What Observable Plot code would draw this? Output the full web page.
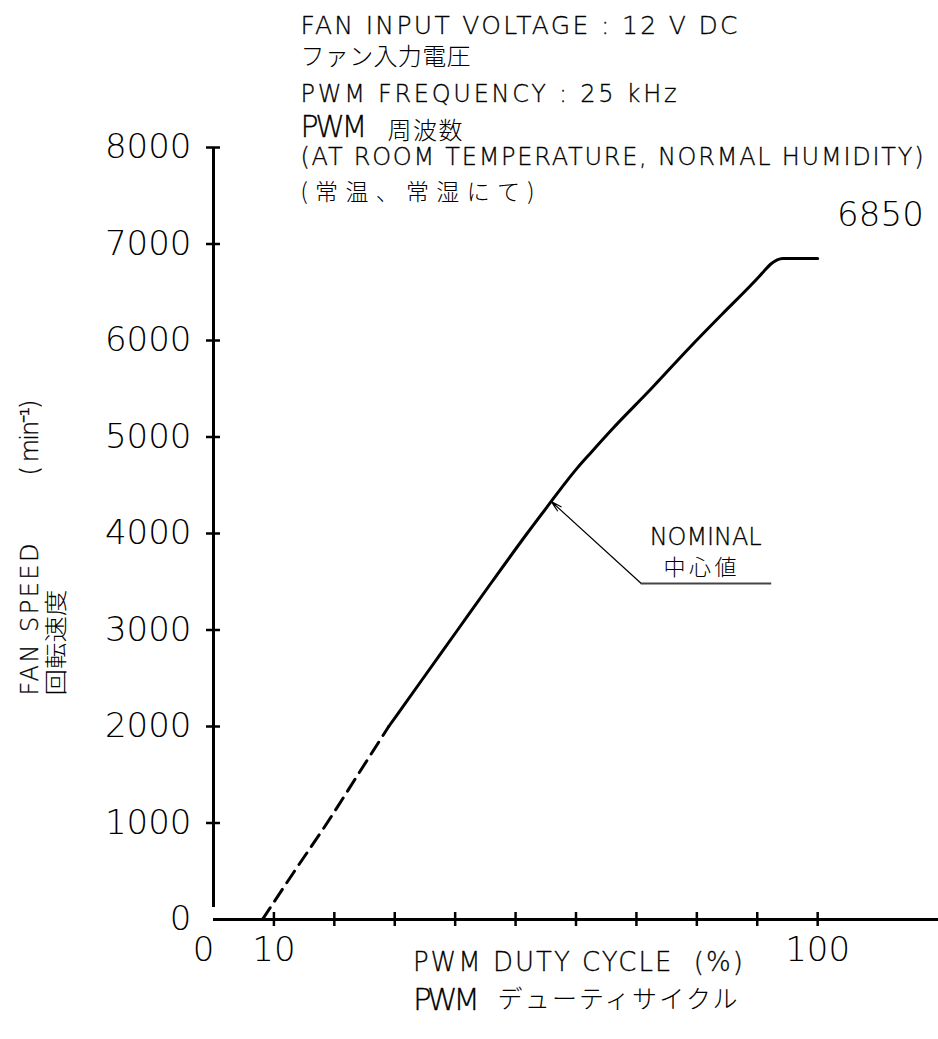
<!DOCTYPE html>
<html>
<head>
<meta charset="utf-8">
<script src="https://cdn.jsdelivr.net/npm/d3@7"></script>
<script src="https://cdn.jsdelivr.net/npm/@observablehq/plot@0.6"></script>
<style>
  html, body { margin: 0; padding: 0; background: #fff; }
  #chart svg { display: block; }
</style>
</head>
<body>
<div id="chart"></div>
<script>
// ---------- data ----------
const dashedDuty  = [8.1, 13.4, 18.8, 23.9, 29.0];
const dashedSpeed = [0, 500, 1000, 1500, 2000];
const solidDuty  = [29.0, 34.7, 40.4, 46.1, 51.9, 55.9, 58.3, 60.3, 62.5, 65.9, 72.6, 78.7, 84.3, 89.3, 91.0, 92.2, 93.3, 94.2, 100];
const solidSpeed = [2000, 2500, 3000, 3500, 4000, 4332, 4530, 4685, 4840, 5075, 5510, 5920, 6280, 6596, 6710, 6790, 6835, 6850, 6850];
const yTicks = [1000, 2000, 3000, 4000, 5000, 6000, 7000, 8000];
const yTickLabels = [0, 1000, 2000, 3000, 4000, 5000, 6000, 7000, 8000];
const xTicks = [10, 20, 30, 40, 50, 60, 70, 80, 90, 100];
const xTickLabels = [10, 100];
const xZeroLabel = [0];
const maxSpeedLabel = "6850";
const nominalTexts = ["NOMINAL", "中心値"];
const headerTexts = [
  "FAN INPUT VOLTAGE : 12 V DC",
  "ファン入力電圧",
  "PWM FREQUENCY : 25 kHz",
  "PWM",
  "周波数",
  "(AT ROOM TEMPERATURE, NORMAL HUMIDITY)",
  "(常温、常湿にて)"
];
const yTitle = ["FAN SPEED", "( min⁻¹)", "回転速度"];
const xTitle = ["PWM DUTY CYCLE  (%)", "PWM", "デューティサイクル"];

// ---------- layout / style (not data) ----------
const LATIN = "DejaVu Sans";
const CJK = "Noto Sans CJK JP";
const headerLayout = [
  {x: 14.4, y: 9264, size: 25, font: LATIN, w: 437},
  {x: 14.4, y: 8933, size: 24, font: CJK,   w: 170},
  {x: 14.4, y: 8549, size: 24, font: LATIN, w: 376},
  {x: 14.4, y: 8207, size: 30, font: LATIN, w: 68},
  {x: 28.8, y: 8166, size: 24, font: CJK,   w: 75},
  {x: 14.4, y: 7896, size: 24, font: LATIN, w: 623},
  {x: 14.4, y: 7534, size: 23, font: CJK,   w: 234}
];
const yTitleLayout = [
  {x: -30.3, y: 2321, size: 24, font: LATIN, w: 152},
  {x: -30.3, y: 4601, size: 24, font: LATIN, w: 76},
  {x: -26.0, y: 2321, size: 23, font: CJK,   w: 106, glyphs: true}
];
const xTitleLayout = [
  {x: 33.0, y: -446, size: 26, font: LATIN, w: 330},
  {x: 33.0, y: -839, size: 31, font: LATIN, w: 67},
  {x: 47.0, y: -839, size: 25, font: CJK,   w: 240}
];
const nominalLayout = [
  {x: 72.2, y: 3959, size: 24, font: LATIN, w: 112},
  {x: 74.5, y: 3648, size: 22, font: CJK,   w: 73}
];
const arrowLayout = {x1: 70.8, y1: 3482, x2: 55.9, y2: 4332, leaderEnd: 92.4};

// ---------- build tables ----------
const dashed = dashedDuty.map((d, i) => ({duty: d, speed: dashedSpeed[i]}));
const solid = solidDuty.map((d, i) => ({duty: d, speed: solidSpeed[i]}));

const latinInk = {fontWeight: 200, fill: "#000", stroke: "#000", strokeWidth: 0.3};
const tickInk = {fontWeight: 200, fill: "#000"};
const cjkInk = {fontWeight: 300, fill: "#000"};

function textMarks(texts, layout, extra = {}) {
  return texts.map((t, i) => {
    const L = layout[i];
    return Plot.text([t], {
      x: [L.x], y: [L.y], text: [t],
      textAnchor: "start", lineAnchor: "middle",
      fontSize: L.size, fontFamily: L.font,
      ...(L.font === LATIN ? latinInk : cjkInk),
      ...extra
    });
  });
}

const plot = Plot.plot({
  width: 938,
  height: 1039,
  marginLeft: 213,
  marginRight: 0,
  marginTop: 147,
  marginBottom: 120,
  x: {domain: [0, 120], axis: null},
  y: {domain: [0, 8000], axis: null},
  style: {fontFamily: LATIN, background: "#fff", overflow: "visible"},
  marks: [
    // axes
    Plot.ruleY([0], {x1: 0, x2: 120, y: d => d, strokeWidth: 3, stroke: "#000"}),
    Plot.ruleX([0], {x: d => d, y1: 0, y2: 8000, insetTop: -12, strokeWidth: 3, stroke: "#000"}),
    Plot.ruleY(yTicks, {y: d => d, x1: 0, x2: 0, insetLeft: -7, insetRight: -7, strokeWidth: 2.5, stroke: "#000"}),
    Plot.ruleX(xTicks, {x: d => d, y1: 0, y2: 0, insetTop: -7, insetBottom: -7, strokeWidth: 2.5, stroke: "#000"}),
    // tick labels
    Plot.text(yTickLabels, {x: 0, y: d => d, text: d => String(d), textAnchor: "end", dx: -22,
      fontSize: 34, fontFamily: LATIN, ...tickInk}),
    Plot.text(xTickLabels, {x: d => d, y: 0, text: d => String(d), dy: 31,
      fontSize: 34, fontFamily: LATIN, ...tickInk}),
    Plot.text(xZeroLabel, {x: d => d, y: 0, text: d => String(d), dy: 31, dx: -10,
      fontSize: 34, fontFamily: LATIN, ...tickInk}),
    // curve
    Plot.line(dashed, {x: "duty", y: "speed", stroke: "#000", strokeWidth: 3,
      strokeDasharray: "14,8", curve: "monotone-x"}),
    Plot.line(solid, {x: "duty", y: "speed", stroke: "#000", strokeWidth: 3, curve: "monotone-x"}),
    // max label
    Plot.text([maxSpeedLabel], {x: [117.6], y: [7295], text: [maxSpeedLabel], textAnchor: "end",
      fontSize: 34, fontFamily: LATIN, ...tickInk}),
    // nominal annotation
    Plot.arrow([arrowLayout], {x1: "x1", y1: "y1", x2: "x2", y2: "y2", stroke: "#000",
      strokeWidth: 1.2, headLength: 14, headAngle: 28}),
    Plot.ruleY([arrowLayout], {y: "y1", x1: "x1", x2: "leaderEnd", stroke: "#444", strokeWidth: 2}),
    ...textMarks(nominalTexts, nominalLayout),
    // header
    ...textMarks(headerTexts, headerLayout),
    // x title
    ...textMarks(xTitle, xTitleLayout),
    // y title (rotated)
    ...textMarks(yTitle, yTitleLayout, {rotate: -90})
  ]
});

// fit text widths (CAD-like letter spacing)
const allLayouts = [
  [headerTexts, headerLayout], [yTitle, yTitleLayout], [xTitle, xTitleLayout],
  [nominalTexts, nominalLayout], [[maxSpeedLabel], [{w: 87}]]
];
const widthMap = new Map();
for (const [texts, lay] of allLayouts) texts.forEach((t, i) => widthMap.set(t, lay[i]));
d3.select(plot).selectAll("text").each(function() {
  const t = this.textContent;
  const L = widthMap.get(t);
  if (L && L.w) {
    this.setAttribute("textLength", L.w);
    this.setAttribute("lengthAdjust", L.glyphs ? "spacingAndGlyphs" : "spacing");
  }
});

document.getElementById("chart").appendChild(plot);
</script>
</body>
</html>
